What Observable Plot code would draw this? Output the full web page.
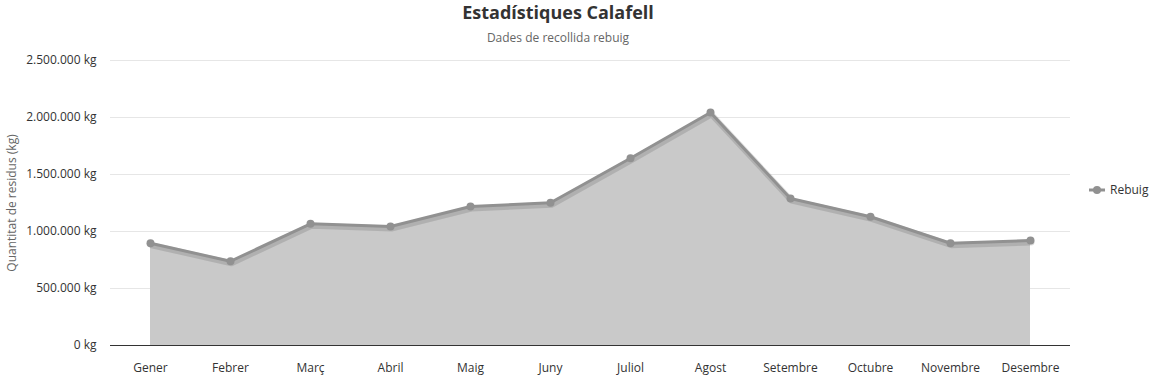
<!DOCTYPE html>
<html>
<head>
<meta charset="utf-8">
<script src="https://cdn.jsdelivr.net/npm/d3@7"></script>
<script src="https://cdn.jsdelivr.net/npm/@observablehq/plot@0.6"></script>
<style>
  body { margin: 0; background: #fff; font-family: "Open Sans", "Noto Sans", sans-serif; }
  #wrap { position: relative; width: 1158px; height: 378px; }
  #chart { position: absolute; left: 0; top: 50px; z-index: 0; }
  #title { position: absolute; left: 0; top: 0; width: 1116px; text-align: center; font-size: 18px; font-weight: bold; color: #333; line-height: 24px; z-index: 1; }
  #subtitle { position: absolute; left: 0; top: 30px; width: 1116px; text-align: center; font-size: 12px; color: #666; line-height: 16px; z-index: 1; }
  #ytitle { position: absolute; left: 11px; top: 203px; transform: translate(-50%, -50%) rotate(-90deg); font-size: 12px; color: #666; white-space: nowrap; z-index: 1; }
  #legend { position: absolute; left: 1088px; top: 181px; font-size: 12px; color: #333; display: flex; align-items: center; gap: 4px; z-index: 1; }
</style>
</head>
<body>
<div id="wrap">
  <div id="chart"></div>
  <div id="title">Estadístiques Calafell</div>
  <div id="subtitle">Dades de recollida rebuig</div>
  <div id="ytitle">Quantitat de residus (kg)</div>
  <div id="legend"><svg width="18" height="12"><line x1="1" x2="17" y1="6" y2="6" stroke="#919191" stroke-width="3"/><circle cx="9" cy="6" r="4" fill="#919191"/></svg><span>Rebuig</span></div>
</div>
<script>
const months = ["Gener","Febrer","Març","Abril","Maig","Juny","Juliol","Agost","Setembre","Octubre","Novembre","Desembre"];
const rebuig = [897000, 739000, 1067000, 1044000, 1219000, 1252000, 1643000, 2044000, 1289000, 1129000, 897000, 921000];
const yTicks = [0, 500000, 1000000, 1500000, 2000000, 2500000];

const data = months.map((m, i) => ({month: m, value: rebuig[i]}));
const fmt = d3.formatLocale({decimal: ",", thousands: ".", grouping: [3], currency: ["", " €"]}).format(",");

const chart = Plot.plot({
  width: 1158,
  height: 328,
  marginTop: 10,
  marginBottom: 33,
  marginLeft: 110,
  marginRight: 88,
  style: {fontFamily: "'Open Sans', 'Noto Sans', sans-serif", fontSize: "12px", color: "#333", background: "transparent"},
  x: {type: "point", domain: months, padding: 0.5, label: null},
  y: {domain: [0, 2500000], label: null},
  marks: [
    Plot.gridY(yTicks, {stroke: "#e6e6e6", strokeOpacity: 1}),
    Plot.areaY(data, {x: "month", y: "value", fill: "#c9c9c9"}),
    Plot.ruleY([0], {stroke: "#333", strokeWidth: 1}),
    Plot.line(data, {x: "month", y: "value", stroke: "#000", strokeOpacity: 0.12, strokeWidth: 6, dx: 1, dy: 2}),
    Plot.line(data, {x: "month", y: "value", stroke: "#919191", strokeWidth: 3}),
    Plot.dot(data, {x: "month", y: "value", r: 4, fill: "#919191"}),
    Plot.axisY(yTicks, {tickSize: 0, tickPadding: 14, tickFormat: d => fmt(d) + " kg", label: null, fill: "#333"}),
    Plot.axisX({tickSize: 0, tickPadding: 18, label: null, fill: "#333"})
  ]
});
document.getElementById("chart").appendChild(chart);
</script>
</body>
</html>
